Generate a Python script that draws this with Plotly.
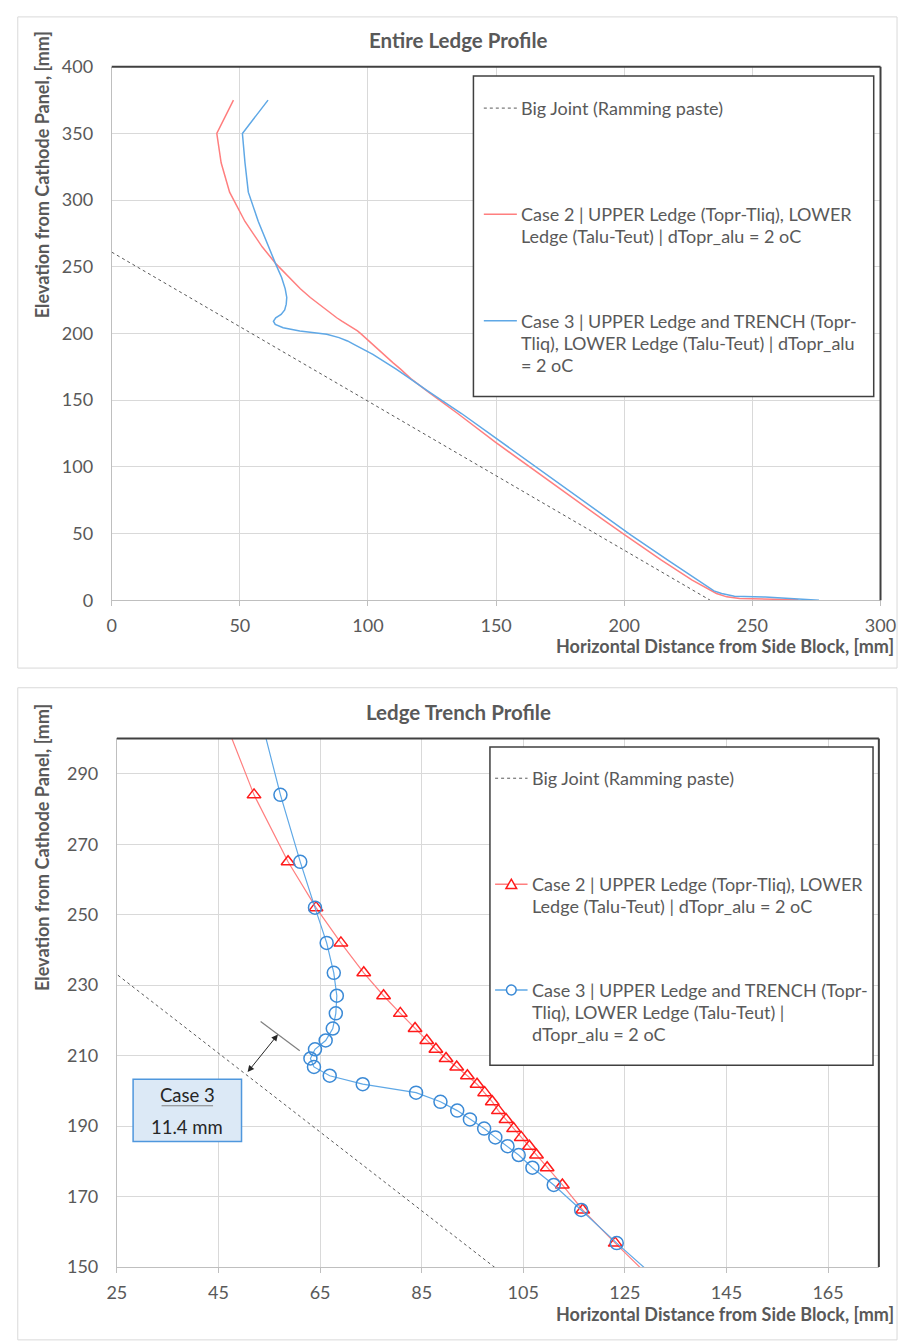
import plotly.graph_objects as go

# ---------------- data ----------------
big_joint_x = [0, 233.5]
big_joint_y = [261, 0]

case2_x = [47.5, 41, 42.7, 46, 52, 58.7, 64.2, 69.1, 73.6, 77.5, 80.8, 83.7, 86, 87.8, 89.8, 91.9,
           94, 95.9, 97.4, 98.9, 100.1, 101.6, 103.1, 104.6, 106.2, 107.6, 109.7, 112.7, 116.7, 123.1,
           135, 149.7, 163, 177.5, 192, 200.2, 214.5, 226.5, 236, 240, 245, 268]
case2_y = [375, 350, 328, 306, 284, 265, 252, 242, 233.5, 227, 222, 217.7, 214.3, 211.8, 209.2, 206.8,
           204.3, 201.9, 199.5, 196.9, 194.4, 191.9, 189.3, 186.8, 184.3, 181.8, 178.2, 173.3, 166.2, 156.8,
           140, 118.5, 100, 80, 60, 49, 30, 15, 5, 2.5, 1.2, 0.3]

case3_x = [61, 51, 52, 53.3, 57.2, 61.1, 64.0, 66.3, 67.7, 68.3, 68.1, 67.5, 66.1, 64.0, 63.1, 63.8,
           66.9, 73.4, 83.9, 88.7, 92, 94.5, 97.3, 99.5, 101.9, 104.1, 106.8, 111, 116.4, 123.4,
           136.5, 152, 165.5, 180, 194.5, 202.5, 217, 229, 235, 238, 243, 255, 276]
case3_y = [375, 350, 328, 306, 284, 265, 252, 242, 233.5, 227, 222, 217.7, 214.3, 211.8, 209.2, 206.8,
           204.3, 201.9, 199.5, 196.9, 194.4, 191.9, 189.3, 186.8, 184.3, 181.8, 178.2, 173.3, 166.2, 156.8,
           140, 118.5, 100, 80, 60, 49, 30, 15, 7, 5, 3, 2.4, 0]

top_title = "Entire Ledge Profile"
bottom_title = "Ledge Trench Profile"
x_title = "Horizontal Distance from Side Block, [mm]"
y_title = "Elevation from Cathode Panel, [mm]"
legend_joint = "Big Joint (Ramming paste)"
legend_case2_lines = ["Case 2 | UPPER Ledge (Topr-Tliq), LOWER", "Ledge (Talu-Teut) | dTopr_alu = 2 oC"]
legend_case3_top_lines = ["Case 3 | UPPER Ledge and TRENCH (Topr-", "Tliq), LOWER Ledge (Talu-Teut) | dTopr_alu", "= 2 oC"]
legend_case3_bot_lines = ["Case 3 | UPPER Ledge and TRENCH (Topr-", "Tliq), LOWER Ledge (Talu-Teut) |", "dTopr_alu = 2 oC"]
note_title = "Case 3"
note_value = "11.4 mm"

# ---------------- styling ----------------
W, H = 914, 1342
FONT = "Lato"
GRAY = "#595959"
GRID = "#d9d9d9"
RED_LINE = "#ff7f7f"
RED_MK = "#ff1a1a"
BLUE_LINE = "#5fa8e6"
BLUE_MK = "#3b8ad6"
TICK_SIZE = 18
LEG_SIZE = 18
AXT_SIZE = 18
TITLE_SIZE = 20.5


def PX(x):
    return x / W


def PY(y):
    return 1 - y / H


fig = go.Figure()

# top chart
fig.add_trace(go.Scatter(x=big_joint_x, y=big_joint_y, mode="lines", xaxis="x", yaxis="y",
                         line=dict(color=GRAY, width=1, dash="dot"), showlegend=False))
fig.add_trace(go.Scatter(x=case2_x, y=case2_y, mode="lines", xaxis="x", yaxis="y",
                         line=dict(color=RED_LINE, width=1.5), showlegend=False))
fig.add_trace(go.Scatter(x=case3_x, y=case3_y, mode="lines", xaxis="x", yaxis="y",
                         line=dict(color=BLUE_LINE, width=1.5), showlegend=False))
# bottom chart
fig.add_trace(go.Scatter(x=big_joint_x, y=big_joint_y, mode="lines", xaxis="x2", yaxis="y2",
                         line=dict(color=GRAY, width=1, dash="dot"), showlegend=False))
fig.add_trace(go.Scatter(x=case2_x, y=case2_y, mode="lines+markers", xaxis="x2", yaxis="y2",
                         line=dict(color=RED_LINE, width=1.2),
                         marker=dict(symbol="triangle-up-open", size=12, color=RED_MK,
                                     line=dict(width=1.5, color=RED_MK)),
                         cliponaxis=True, showlegend=False))
fig.add_trace(go.Scatter(x=case3_x, y=case3_y, mode="lines+markers", xaxis="x2", yaxis="y2",
                         line=dict(color=BLUE_LINE, width=1.2),
                         marker=dict(symbol="circle-open", size=13, color=BLUE_MK,
                                     line=dict(width=1.5, color=BLUE_MK)),
                         cliponaxis=True, showlegend=False))

axis_common = dict(showgrid=True, gridcolor=GRID, gridwidth=1, zeroline=False,
                   showline=True, linecolor="#bfbfbf", linewidth=1,
                   tickfont=dict(family=FONT, size=TICK_SIZE, color=GRAY))

fig.update_layout(
    width=W, height=H,
    margin=dict(l=0, r=0, t=0, b=0, pad=0),
    paper_bgcolor="white", plot_bgcolor="white",
    font=dict(family=FONT, color=GRAY),
    showlegend=False,
    xaxis=dict(domain=[PX(104.7), PX(896)], range=[0, 300], tick0=0, dtick=50, anchor="y",
               ticks="outside", ticklen=5, tickcolor="#bfbfbf", ticklabelstandoff=4, **axis_common),
    yaxis=dict(domain=[PY(598), PY(55.7)], range=[0, 400], tick0=0, dtick=50, anchor="x",
               ticks="", ticklabelstandoff=14, **axis_common),
    xaxis2=dict(domain=[PX(110), PX(894.3)], range=[25, 175], tick0=25, dtick=20, anchor="y2",
                ticks="outside", ticklen=5, tickcolor="#bfbfbf", ticklabelstandoff=4, **axis_common),
    yaxis2=dict(domain=[PY(1276), PY(738.6)], range=[150, 300], tick0=150, dtick=20, anchor="x2",
                ticks="", ticklabelstandoff=14, **axis_common),
)

shapes = []
annotations = []

# panel frames
for (y0, y1) in [(5, 667), (687, 1350)]:
    shapes.append(dict(type="rect", xref="paper", yref="paper", x0=PX(8), x1=PX(913),
                       y0=PY(y1), y1=PY(y0), line=dict(color=GRID, width=1), layer="below"))

# dark top/right plot borders
for xa, ya in [("x", "y"), ("x2", "y2")]:
    shapes.append(dict(type="line", xref=f"{xa} domain", yref=f"{ya} domain", x0=0, x1=1, y0=1, y1=1,
                       line=dict(color="#404040", width=2)))
    shapes.append(dict(type="line", xref=f"{xa} domain", yref=f"{ya} domain", x0=1, x1=1, y0=0, y1=1,
                       line=dict(color="#404040", width=2)))

# titles
for txt, yc in [(top_title, 28), (bottom_title, 712)]:
    annotations.append(dict(text=f"<b>{txt}</b>", xref="paper", yref="paper", x=PX(462), y=PY(yc),
                            xanchor="center", yanchor="middle", showarrow=False,
                            font=dict(family=FONT, size=TITLE_SIZE, color=GRAY)))
# axis titles
for yc in [645, 1324]:
    annotations.append(dict(text=f"<b>{x_title}</b>", xref="paper", yref="paper", x=PX(912), y=PY(yc),
                            xanchor="right", yanchor="middle", showarrow=False,
                            font=dict(family=FONT, size=AXT_SIZE, color=GRAY)))
for ytop in [18, 702]:
    annotations.append(dict(text=f"<b>{y_title}</b>", xref="paper", yref="paper", x=PX(33), y=PY(ytop),
                            xanchor="center", yanchor="top", textangle=-90, showarrow=False,
                            font=dict(family=FONT, size=AXT_SIZE, color=GRAY)))


def add_legend(box, sx0, sx1, tx, joint_y, c2_y, c3_y, c3_lines, markers):
    bx0, by0, bx1, by1 = box
    shapes.append(dict(type="rect", xref="paper", yref="paper", x0=PX(bx0), x1=PX(bx1),
                       y0=PY(by1), y1=PY(by0), line=dict(color="#404040", width=1.5),
                       fillcolor="white"))
    entries = [(joint_y, GRAY, "dot", [legend_joint], None),
               (c2_y, RED_LINE, "solid", legend_case2_lines, "tri"),
               (c3_y, BLUE_LINE, "solid", c3_lines, "circ")]
    for yy, col, dash, lines, mk in entries:
        shapes.append(dict(type="line", xref="paper", yref="paper", x0=PX(sx0), x1=PX(sx1),
                           y0=PY(yy), y1=PY(yy), line=dict(color=col, width=1.5 if dash == "solid" else 1, dash=dash)))
        if markers and mk:
            cx = (sx0 + sx1) / 2
            if mk == "tri":
                path = (f"M {PX(cx-5.5)} {PY(yy+4.5)} L {PX(cx+5.5)} {PY(yy+4.5)} "
                        f"L {PX(cx)} {PY(yy-5)} Z")
                shapes.append(dict(type="path", xref="paper", yref="paper", path=path,
                                   line=dict(color=RED_MK, width=1.5), fillcolor="white"))
            else:
                shapes.append(dict(type="circle", xref="paper", yref="paper",
                                   x0=PX(cx-5), x1=PX(cx+5), y0=PY(yy+5), y1=PY(yy-5),
                                   line=dict(color=BLUE_MK, width=1.5), fillcolor="white"))
        for i, ln in enumerate(lines):
            annotations.append(dict(text=ln, xref="paper", yref="paper", x=PX(tx), y=PY(yy + 22.5 * i),
                                    xanchor="left", yanchor="middle", showarrow=False,
                                    font=dict(family=FONT, size=LEG_SIZE, color=GRAY)))


add_legend((477, 65, 889, 391), 487.7, 521.7, 524, 97.7, 205.7, 314, legend_case3_top_lines, False)
add_legend((494, 747.3, 888.3, 1070.7), 499.3, 532.7, 535.5, 779, 886.7, 994.3, legend_case3_bot_lines, True)

# measurement annotation in the trench chart
shapes.append(dict(type="line", xref="x2", yref="y2", x0=53.3, y0=219.7, x1=61, y1=211.4,
                   line=dict(color="#808080", width=1.2)))
annotations.append(dict(x=56.7, y=216.0, ax=50.5, ay=204.9, xref="x2", yref="y2", axref="x2", ayref="y2",
                        text="", showarrow=True, arrowside="end+start", arrowhead=2, startarrowhead=2,
                        arrowsize=1.3, startarrowsize=1.3, arrowwidth=1, arrowcolor="#262626"))
shapes.append(dict(type="rect", xref="paper", yref="paper", x0=PX(126.7), x1=PX(238.3),
                   y0=PY(1148.3), y1=PY(1085), line=dict(color="#4f97dd", width=1.5), fillcolor="#dce9f6"))
shapes.append(dict(type="line", xref="paper", yref="paper", x0=PX(156), x1=PX(209),
                   y0=PY(1112), y1=PY(1112), line=dict(color="#7f7f7f", width=1)))
annotations.append(dict(text=note_title, xref="paper", yref="paper", x=PX(182.5), y=PY(1101),
                        xanchor="center", yanchor="middle", showarrow=False,
                        font=dict(family=FONT, size=18.5, color="#262626")))
annotations.append(dict(text=note_value, xref="paper", yref="paper", x=PX(182.5), y=PY(1134),
                        xanchor="center", yanchor="middle", showarrow=False,
                        font=dict(family=FONT, size=18.5, color="#262626")))

fig.update_layout(shapes=shapes, annotations=annotations)
fig.write_html("out.html")
